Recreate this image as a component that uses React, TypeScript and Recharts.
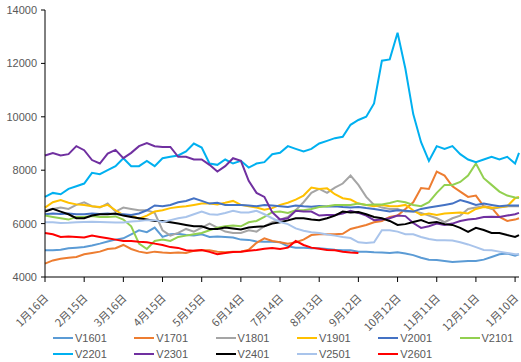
import React from 'react';
import { LineChart, Line, XAxis, YAxis } from 'recharts';

const dateLabels = ['1月16日', '2月15日', '3月16日', '4月15日', '5月15日', '6月14日', '7月14日', '8月13日', '9月12日', '10月12日', '11月11日', '12月11日', '1月10日'];
const tickDays = [0, 30, 60, 90, 120, 150, 180, 210, 240, 270, 300, 330, 360];
const yTicks = [4000, 6000, 8000, 10000, 12000, 14000];
const sampleDays = Array.from({ length: 62 }, (_, i) => Math.min(i * 6, 363));

const V1601 = [5000, 5000, 5020, 5080, 5100, 5120, 5180, 5250, 5330, 5400,
  5450, 5600, 5750, 5680, 5850, 5500, 5600, 5620, 5570, 5550,
  5600, 5500, 5520, 5500, 5480, 5400, 5390, 5330, 5320, 5320,
  5300, 5150, 5100, 5100, 5080, 5080, 5050, 5020, 5000, 5000,
  4950, 4950, 4930, 4920, 4900, 4930, 4880, 4820, 4720, 4650,
  4640, 4600, 4560, 4580, 4600, 4600, 4650, 4750, 4850, 4880,
  4800, 4850];
const V1701 = [4500, 4620, 4680, 4720, 4750, 4850, 4900, 4950, 5050, 5080,
  5200, 5050, 4950, 4900, 4950, 4920, 4900, 4920, 4900, 4980,
  5000, 5000, 4950, 4930, 4950, 4950, 5020, 5280, 5450, 5350,
  5300, 5250, 5300, 5400, 5570, 5600, 5600, 5600, 5620, 5800,
  5870, 5950, 6050, 6100, 6250, 6300, 6550, 6800, 7330, 7300,
  7950, 7800, 7400, 7200, 7000, 7050, 6650, 6600, 6250, 6100,
  6150, 6200];
const V1801 = [6500, 6550, 6600, 6550, 6700, 6800, 6650, 6600, 6750, 6450,
  6600, 6550, 6500, 6500, 6400, 5750, 5550, 5650, 5800, 5700,
  5850, 6000, 5850, 5700, 5650, 5650, 5750, 5700, 5900, 6050,
  6150, 6250, 6500, 6800, 7150, 7300, 7150, 7350, 7500, 7800,
  7450, 7000, 6700, 6600, 6550, 6550, 6450, 6450, 6400, 6300,
  6200, 6050, 6200, 6300, 6550, 6600, 6650, 6550, 6600, 6650,
  6650, 6650];
const V1901 = [6600, 6800, 6880, 6780, 6720, 6700, 6650, 6620, 6700, 6500,
  6320, 6300, 6180, 6300, 6450, 6500, 6580, 6620, 6650, 6700,
  6750, 6750, 6720, 6780, 6850, 6700, 6650, 6600, 6520, 6580,
  6700, 6780, 6900, 7050, 7350, 7300, 7320, 7100, 6950, 6900,
  6750, 6700, 6650, 6700, 6650, 6650, 6700, 6500, 6320, 6380,
  6320, 6380, 6400, 6420, 6380, 6550, 6620, 6580, 6620, 6650,
  6950, 7000];
const V2001 = [6350, 6380, 6360, 6380, 6350, 6350, 6380, 6360, 6380, 6350,
  6350, 6320, 6380, 6500, 6680, 6650, 6700, 6800, 6850, 6950,
  6850, 6750, 6780, 6700, 6700, 6700, 6680, 6650, 6700, 6680,
  6650, 6620, 6680, 6650, 6630, 6660, 6640, 6650, 6620, 6600,
  6620, 6580, 6550, 6500, 6450, 6500, 6480, 6450, 6550, 6600,
  6650, 6700, 6750, 6880, 6800, 6700, 6750, 6700, 6650, 6680,
  6680, 6680];
const V2101 = [6300, 6250, 6200, 6150, 6250, 6250, 6280, 6250, 6250, 6270,
  6150, 5900, 5250, 5050, 5350, 5400, 5350, 5500, 5550, 5600,
  5650, 5750, 5850, 5900, 5930, 5900, 6050, 6100, 6250, 6430,
  6450, 6400, 6500, 6500, 6550, 6620, 6650, 6700, 6700, 6700,
  6750, 6700, 6720, 6720, 6770, 6850, 6800, 6700, 6650, 6800,
  7150, 7450, 7450, 7560, 7800, 8250, 7700, 7450, 7200, 7050,
  6980, 6960];
const V2201 = [7000, 7150, 7100, 7300, 7400, 7500, 7900, 7850, 8000, 8150,
  8450, 8150, 8150, 8350, 8150, 8450, 8500, 8550, 8700, 9000,
  8850, 8250, 8200, 8400, 8250, 8350, 8100, 8250, 8300, 8600,
  8650, 8900, 8800, 8700, 8800, 9000, 9100, 9200, 9250, 9700,
  9880, 10000, 10500, 12100, 12150, 13150, 11800, 10100, 9050, 8350,
  8900, 8800, 8900, 8600, 8400, 8300, 8400, 8500, 8400, 8500,
  8250, 8650];
const V2301 = [8550, 8640, 8550, 8600, 8900, 8750, 8380, 8250, 8620, 8760,
  8450, 8650, 8900, 9020, 8900, 8870, 8870, 8500, 8500, 8400,
  8400, 8200, 7950, 8150, 8450, 8350, 7600, 7150, 7000, 6430,
  6150, 6200, 6480, 6450, 6450, 6300, 6320, 6320, 6380, 6480,
  6400, 6300, 6130, 6150, 6200, 6300, 6280, 6020, 5840, 5900,
  6000, 5950, 6000, 6100, 6150, 6180, 6250, 6260, 6250, 6300,
  6350, 6400];
const V2401 = [6450, 6550, 6450, 6350, 6200, 6200, 6300, 6350, 6350, 6380,
  6300, 6250, 6200, 6150, 6100, 6100, 6050, 6000, 5950, 5900,
  5900, 5800, 5800, 5850, 5820, 5780, 5850, 5880, 5900, 6000,
  6050, 6120, 6200, 6200, 6150, 6130, 6200, 6300, 6450, 6420,
  6430, 6350, 6250, 6200, 6100, 5950, 5980, 6060, 6130, 6020,
  6060, 5980, 5950, 5840, 5690, 5840, 5760, 5650, 5650, 5570,
  5500, 5570];
const V2501 = [6050, 6050, 6020, 6030, 6050, 6060, 6070, 6060, 6050, 6040,
  6040, 6080, 6100, 6130, 6130, 6060, 6130, 6200, 6250, 6350,
  6450, 6350, 6330, 6400, 6480, 6420, 6420, 6480, 6350, 6200,
  6060, 5980, 5820, 5730, 5680, 5650, 5590, 5550, 5500, 5460,
  5300, 5270, 5300, 5750, 5750, 5700, 5600, 5600, 5500, 5420,
  5380, 5380, 5370, 5300, 5220, 5120, 5010, 5000, 4950, 4900,
  4850, 4850];
const V2601 = [5650, 5600, 5500, 5520, 5500, 5480, 5550, 5500, 5450, 5400,
  5350, 5350, 5320, 5300, 5250, 5200, 5120, 5090, 5000, 4980,
  5010, 4940, 4850, 4900, 4940, 4950, 4980, 5010, 5060, 5090,
  5050, 5100, 5350, 5200, 5100, 5060, 5010, 5000, 4950, 4920,
  4900];

const seriesNames = ['V1601', 'V1701', 'V1801', 'V1901', 'V2001', 'V2101', 'V2201', 'V2301', 'V2401', 'V2501', 'V2601'];
const seriesValues = [V1601, V1701, V1801, V1901, V2001, V2101, V2201, V2301, V2401, V2501, V2601];
const seriesColors = ['#5B9BD5', '#ED7D31', '#A5A5A5', '#FFC000', '#4472C4', '#92D050', '#00B0F0', '#7030A0', '#000000', '#A9C4EB', '#FF0000'];

const rows = sampleDays.map((day, i) => {
  const r: Record<string, number | null> = { day };
  seriesNames.forEach((n, k) => {
    const v = seriesValues[k][i];
    r[n] = v === undefined ? null : v;
  });
  return r;
});

const DateTick = (props: any) => {
  const { x, y, payload } = props;
  const idx = tickDays.indexOf(payload.value);
  return (
    <text
      x={0}
      y={0}
      transform={`translate(${x + 4},${y + 15}) rotate(-45)`}
      textAnchor="end"
      fontSize={11}
      fill="#595959"
      fontFamily="'Noto Sans CJK SC', sans-serif"
    >
      {dateLabels[idx]}
    </text>
  );
};

const legendRows = [seriesNames.slice(0, 6), seriesNames.slice(6)];

export default function App() {
  return (
    <div style={{ position: 'absolute', left: 0, top: 0, width: 521, height: 362, background: '#fff' }}>
      <LineChart width={521} height={362} data={rows} margin={{ top: 10, right: 2, left: 0, bottom: 0 }}>
        <XAxis
          type="number"
          dataKey="day"
          domain={[0, 363]}
          ticks={tickDays}
          interval={0}
          height={85}
          tick={<DateTick />}
          tickSize={5}
          tickMargin={2}
          axisLine={{ stroke: '#000', strokeWidth: 1 }}
          tickLine={{ stroke: '#000' }}
        />
        <YAxis
          type="number"
          domain={[4000, 14000]}
          ticks={yTicks}
          interval={0}
          width={45}
          tickSize={4}
          tickMargin={4}
          axisLine={{ stroke: '#000', strokeWidth: 1 }}
          tickLine={{ stroke: '#000' }}
          tick={{ fontSize: 11, fill: '#595959', fontFamily: "'Liberation Sans', Arial, sans-serif" }}
        />
        {seriesNames.map((n, k) => (
          <Line
            key={n}
            type="linear"
            dataKey={n}
            stroke={seriesColors[k]}
            strokeWidth={2}
            dot={false}
            isAnimationActive={false}
          />
        ))}
      </LineChart>
      {legendRows.map((row, r) => (
        <div key={r}>
          {row.map((n, c) => {
            const k = r * 6 + c;
            return (
              <div
                key={n}
                style={{
                  position: 'absolute',
                  left: 53 + c * 81.3,
                  top: 331 + r * 16,
                  height: 14,
                  display: 'flex',
                  alignItems: 'center',
                  fontFamily: "'Liberation Sans', Arial, sans-serif",
                  fontSize: 11,
                  color: '#595959',
                  whiteSpace: 'nowrap',
                }}
              >
                <span style={{ display: 'inline-block', width: 20, height: 2.5, background: seriesColors[k], marginRight: 2 }} />
                {n}
              </div>
            );
          })}
        </div>
      ))}
    </div>
  );
}
